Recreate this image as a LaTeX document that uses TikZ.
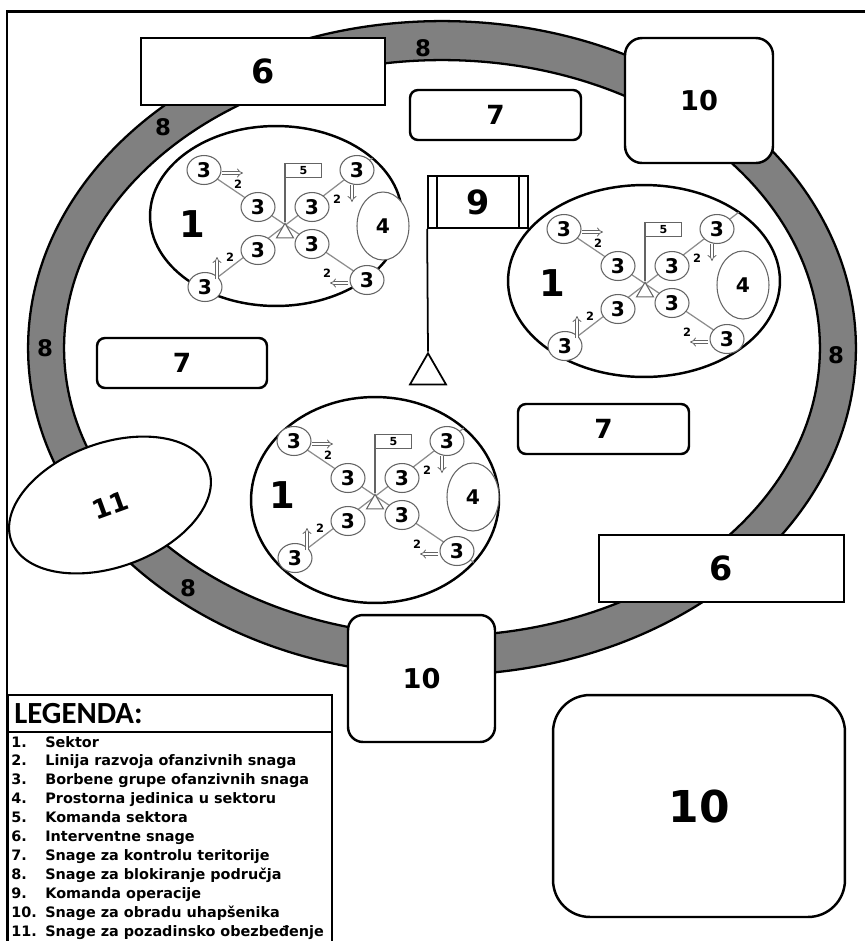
\documentclass[tikz,border=0pt]{standalone}
\usepackage{fontspec}
\setmainfont{DejaVu Sans}
\newfontfamily\carlito{Carlito}
\usetikzlibrary{shapes.geometric,arrows.meta,calc}
\definecolor{ringgray}{RGB}{128,128,128}
\definecolor{linkgray}{RGB}{140,140,140}
\definecolor{smallgray}{RGB}{100,100,100}
\tikzset{
  fs/.style={font=\bfseries\fontsize{#1}{#1}\selectfont},
  whitebox/.style={draw=black, line width=1.4pt, fill=white, inner sep=0pt},
  sectorell/.style={ellipse, draw=black, line width=1.4pt, fill=white, inner sep=0pt},
  link/.style={draw=linkgray, line width=0.7pt},
  c3/.style={ellipse, draw=smallgray, line width=0.6pt, fill=white, minimum width=0.68cm, minimum height=0.58cm, inner sep=0pt, fs=11.5pt},
  unitfour/.style={ellipse, draw=smallgray, line width=0.6pt, fill=white, minimum width=1.04cm, minimum height=1.36cm, inner sep=0pt, fs=11.5pt},
  flagfive/.style={rectangle, draw=smallgray, line width=0.6pt, fill=white, minimum width=0.72cm, minimum height=0.28cm, inner sep=0pt, fs=6.3pt},
  smalltri/.style={regular polygon, regular polygon sides=3, draw=smallgray, line width=0.6pt, fill=white, minimum size=0.39cm, inner sep=0pt},
  pole/.style={draw=smallgray, line width=0.6pt},
  arrtwo/.style={draw=smallgray, line width=0.45pt, double=white, double distance=1.3pt, -{Implies}},
  ringlab/.style={fs=13pt},
  legitem/.style={anchor=base west, inner sep=0pt, fs=8.2pt},
}
\newcommand\sectorfig[7]{%
\begin{scope}[shift={(#2,#3)}]
  \node[sectorell, minimum width=#6*0.04cm, minimum height=#7*0.04cm] (#1-sec) at (#4,#5) {};
  \coordinate (#1-A) at (-81,-53);
  \coordinate (#1-B) at (-27,-16);
  \coordinate (#1-C) at (27,-16);
  \coordinate (#1-D) at (72,-53);
  \coordinate (#1-E) at (-27,27);
  \coordinate (#1-F) at (-80,64);
  \coordinate (#1-G) at (27,21);
  \coordinate (#1-H) at (82,57);
  \begin{scope}
    \clip (#4,#5) ellipse [x radius=#6*0.02cm, y radius=#7*0.02cm];
    \draw[link] (#1-A) -- ($(#1-A)!1.4!(#1-H)$);
    \draw[link] (#1-F) -- ($(#1-F)!1.4!(#1-D)$);
  \end{scope}
  \node[flagfive, anchor=north west] (#1-cmd) at (0,-60) {5};
  \node[smalltri] (#1-tri) at (0,10) {};
  \draw[pole] (#1-cmd.north west) -- (#1-tri.corner 1);
  \node[c3] (#1-nA) at (#1-A) {3};
  \node[c3] (#1-nB) at (#1-B) {3};
  \node[c3] (#1-nC) at (#1-C) {3};
  \node[c3] (#1-nD) at (#1-D) {3};
  \node[c3] (#1-nE) at (#1-E) {3};
  \node[c3] (#1-nF) at (#1-F) {3};
  \node[c3] (#1-nG) at (#1-G) {3};
  \node[c3] (#1-nH) at (#1-H) {3};
  \node[unitfour] (#1-u4) at (98,3) {4};
  \node[fs=21pt, inner sep=0pt] (#1-lab) at (-93,1) {1};
  \coordinate (#1-a1s) at (-63,-50); \coordinate (#1-a1e) at (-42,-50);
  \coordinate (#1-a2s) at (67,-38);  \coordinate (#1-a2e) at (67,-21);
  \coordinate (#1-a3s) at (-68,56);  \coordinate (#1-a3e) at (-68,34);
  \coordinate (#1-a4s) at (63,60);   \coordinate (#1-a4e) at (45,60);
  \draw[arrtwo] (#1-a1s) -- (#1-a1e);
  \draw[arrtwo] (#1-a2s) -- (#1-a2e);
  \draw[arrtwo] (#1-a3s) -- (#1-a3e);
  \draw[arrtwo] (#1-a4s) -- (#1-a4e);
  \node[fs=6.5pt, inner sep=0pt] (#1-t1) at (-47,-39) {2};
  \node[fs=6.5pt, inner sep=0pt] (#1-t2) at (52,-24) {2};
  \node[fs=6.5pt, inner sep=0pt] (#1-t3) at (-55,34) {2};
  \node[fs=6.5pt, inner sep=0pt] (#1-t4) at (42,50) {2};
\end{scope}}
\begin{document}
\begin{tikzpicture}[x=0.02cm,y=-0.02cm]
\useasboundingbox (0,0) rectangle (865,941);
\clip (0,0) rectangle (865,941);
% frame
\draw[line width=1.7pt] (7,960) -- (7,11) -- (880,11);
% ring
\fill[ringgray, even odd rule] (442,348) ellipse [x radius=8.28cm, y radius=6.54cm]
      (442,348) ellipse [x radius=7.56cm, y radius=5.76cm];
\draw[line width=1.3pt] (442,348) ellipse [x radius=8.28cm, y radius=6.54cm];
\draw[line width=1.3pt] (442,348) ellipse [x radius=7.56cm, y radius=5.76cm];
\node[ringlab] (r8a) at (423,48) {8};
\node[ringlab] (r8b) at (163,127) {8};
\node[ringlab] (r8c) at (45,348) {8};
\node[ringlab] (r8d) at (836,355) {8};
\node[ringlab] (r8e) at (188,588) {8};
% sectors
\sectorfig{s1}{285}{223}{-9}{-7}{126}{90}
\sectorfig{s2}{645}{282}{-1}{-1}{136}{96}
\sectorfig{s3}{375}{494}{0}{6}{124}{103}
% command of operation
\node[whitebox, line width=1pt, minimum width=2cm, minimum height=1.04cm] (cmd) at (478,202) {};
\draw[line width=1pt] ($(cmd.north west)+(10,0)$) -- ($(cmd.south west)+(10,0)$);
\draw[line width=1pt] ($(cmd.north east)+(-10,0)$) -- ($(cmd.south east)+(-10,0)$);
\node[fs=19pt] (cmdlab) at (cmd.center) {9};
\node[regular polygon, regular polygon sides=3, draw, line width=1pt, fill=white, minimum size=0.83cm, inner sep=0pt] (cmdbase) at (428,374) {};
\draw[line width=1pt] (cmd.south west) -- (cmdbase.corner 1);
% boxes
\node[whitebox, minimum width=4.88cm, minimum height=1.34cm, fs=19pt] (int1) at (263,71.5) {6};
\node[whitebox, rounded corners=0.16cm, minimum width=3.42cm, minimum height=1cm, fs=15pt] (ctl1) at (495.5,115) {7};
\node[whitebox, rounded corners=0.34cm, minimum width=2.96cm, minimum height=2.5cm, fs=15.5pt] (obr1) at (699,100.5) {10};
\node[whitebox, rounded corners=0.16cm, minimum width=3.4cm, minimum height=1cm, fs=15pt] (ctl2) at (182,363) {7};
\node[whitebox, rounded corners=0.16cm, minimum width=3.42cm, minimum height=1cm, fs=15pt] (ctl3) at (603.5,429) {7};
\node[whitebox, minimum width=4.9cm, minimum height=1.34cm, fs=19pt] (int2) at (721.5,568.5) {6};
\node[whitebox, rounded corners=0.3cm, minimum width=2.94cm, minimum height=2.54cm, fs=15.5pt] (obr2) at (421.5,678.5) {10};
\node[whitebox, rounded corners=0.74cm, minimum width=5.84cm, minimum height=4.44cm, fs=25pt] (obr3) at (699,806) {10};
\node[ellipse, draw, line width=1.2pt, fill=white, rotate=20, minimum width=4.2cm, minimum height=2.48cm, inner sep=0pt, fs=15pt] (poz) at (110,505) {11};
% legend
\draw[line width=1.2pt, fill=white] (8,695) rectangle (332,960);
\draw[line width=1.2pt] (8,732) -- (332,732);
\node[anchor=west, inner sep=0pt, font=\carlito\bfseries\fontsize{17.5pt}{17.5pt}\selectfont] (legT) at (14,714) {LEGENDA:};
\foreach \n/\t [count=\i] in {1./Sektor, 2./Linija razvoja ofanzivnih snaga, 3./Borbene grupe ofanzivnih snaga, 4./Prostorna jedinica u sektoru, 5./Komanda sektora, 6./Interventne snage, 7./Snage za kontrolu teritorije, 8./Snage za blokiranje područja, 9./Komanda operacije, 10./Snage za obradu uhapšenika, 11./Snage za pozadinsko obezbeđenje}{
  \node[legitem] (legn\i) at (11,747+\i*18.9-18.9) {\n};
  \node[legitem] (legt\i) at (45,747+\i*18.9-18.9) {\t};
}
\end{tikzpicture}
\end{document}
